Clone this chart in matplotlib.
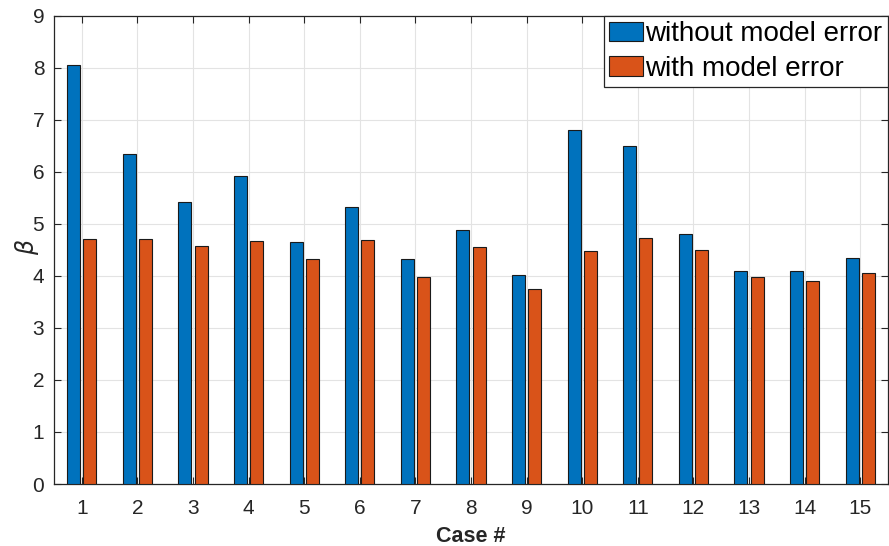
import matplotlib
matplotlib.use("Agg")
import matplotlib.pyplot as plt
import numpy as np

cases = list(range(1, 16))
without_err = [8.05, 6.35, 5.42, 5.92, 4.65, 5.32, 4.32, 4.88, 4.02, 6.80, 6.50, 4.80, 4.09, 4.09, 4.35]
with_err = [4.71, 4.71, 4.57, 4.67, 4.33, 4.68, 3.98, 4.56, 3.75, 4.48, 4.73, 4.50, 3.97, 3.90, 4.06]
labels = ["without model error", "with model error"]

plt.rcParams['font.family'] = ['Liberation Sans', 'DejaVu Sans']
dark = '#262626'

fig = plt.figure(figsize=(8.89, 5.46), dpi=100)
ax = fig.add_axes([54/889, (546-484)/546, (888-54)/889, (484-15.7)/546])

x = np.array(cases, dtype=float)
w = 0.235
off = 0.145
ax.bar(x - off, without_err, w, color='#0072BD', edgecolor='#1a1a1a', linewidth=0.8, label=labels[0], zorder=3)
ax.bar(x + off, with_err, w, color='#D95319', edgecolor='#1a1a1a', linewidth=0.8, label=labels[1], zorder=3)

ax.set_xlim(0.5, 15.5)
ax.set_ylim(0, 9)
ax.set_xticks(cases)
ax.set_yticks(range(0, 10))
ax.grid(True, color='#e3e3e3', linewidth=0.8, zorder=0)
ax.set_axisbelow(True)
ax.tick_params(direction='in', top=True, right=True, labelsize=15, colors=dark, length=5, width=0.8)
ax.tick_params(axis='x', pad=11)
ax.tick_params(axis='y', pad=7)
for s in ax.spines.values():
    s.set_color(dark)
    s.set_linewidth(0.9)

ax.set_xlabel('Case #', fontsize=15.5, fontweight='bold', color=dark)
ax.xaxis.set_label_coords((471-54)/(888-54), -(537-484)/(484-15.7))
ax.xaxis.label.set_va('center')
ax.set_ylabel(r'$\beta$', fontsize=17, color=dark)
ax.yaxis.set_label_coords(-(54-27)/(888-54), (484-247)/(484-15.7))
ax.yaxis.label.set_va('center')

leg = ax.legend(loc='upper right', fontsize=20, frameon=True, fancybox=False,
                borderaxespad=0, handlelength=1.22, handleheight=0.72,
                handletextpad=0.08, borderpad=0.2, labelspacing=0.3)
leg.get_frame().set_edgecolor(dark)
leg.get_frame().set_linewidth(0.9)
leg.get_frame().set_alpha(1)

fig.savefig('out.png', dpi=100)
